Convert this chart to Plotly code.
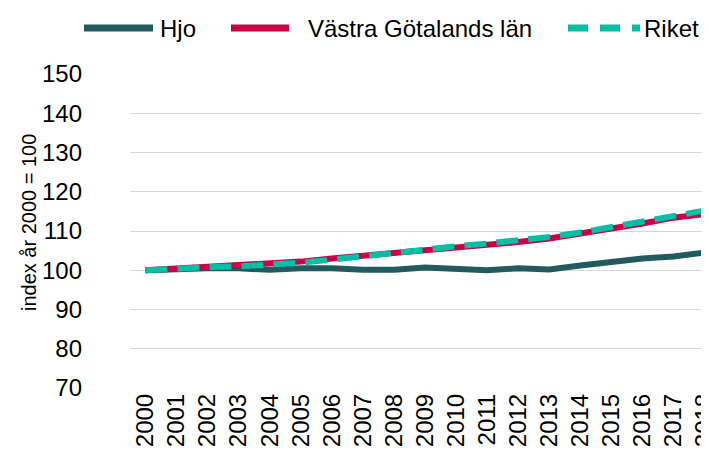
import plotly.graph_objects as go

years = [str(y) for y in range(2000, 2019)]
hjo = [100, 100.3, 100.5, 100.5, 100.1, 100.5, 100.5, 100.1, 100.1, 100.7, 100.5, 100.0, 100.5, 100.2, 101.2, 102.2, 103.0, 103.5, 104.5]
vastra = [100, 100.4, 100.8, 101.5, 101.9, 102.2, 103.0, 103.7, 104.2, 105.0, 105.9, 106.5, 107.2, 108.1, 109.3, 110.4, 111.9, 113.4, 114.3]
riket = [100, 100.5, 100.8, 101.0, 101.3, 101.9, 102.7, 103.6, 104.4, 105.3, 106.1, 106.8, 107.6, 108.5, 109.6, 111.0, 112.4, 113.8, 115.2]

y_ticks = [70, 80, 90, 100, 110, 120, 130, 140, 150]
series_names = ["Hjo", "Västra Götalands län", "Riket"]
series_colors = ["#215A5F", "#CC0044", "#00BFA5"]
series_dash = ["solid", "solid", "22px,10px"]

font_family = "Liberation Sans, Arial, sans-serif"

W, H = 709, 450
ML, MR, MT, MB = 122, 0, 66, 70
PW, PH = W - ML - MR, H - MT - MB


def px_x(p):
    return (p - ML) / PW


def px_y(p):
    return (H - MB - p) / PH


fig = go.Figure()
for name, vals, col, dash in zip(series_names, [hjo, vastra, riket], series_colors, series_dash):
    fig.add_trace(go.Scatter(x=years, y=vals, name=name, mode="lines",
                             line=dict(color=col, width=6, dash=dash)))

# custom legend (layout decoration)
legend_items = [
    (76, 145, 150, "Hjo"),
    (223, 281, 298, "Västra Götalands län"),
    (560, 632, 634, "Riket"),
]
legend_dash = ["solid", "solid", "20px,12px"]
ly = px_y(20)
shapes = []
annotations = []
for (x0, x1, tx, label), col, dash in zip(legend_items, series_colors, legend_dash):
    shapes.append(dict(type="line", xref="paper", yref="paper",
                       x0=px_x(x0), x1=px_x(x1), y0=ly, y1=ly,
                       line=dict(color=col, width=7, dash=dash)))
    annotations.append(dict(text=label, xref="paper", yref="paper",
                            x=px_x(tx), y=ly, xanchor="left", yanchor="middle",
                            showarrow=False, font=dict(size=24, color="#000000")))

annotations.append(dict(text="index år 2000 = 100", xref="paper", yref="paper",
                        x=px_x(21), y=px_y(215), xanchor="center", yanchor="middle",
                        textangle=-90, showarrow=False,
                        font=dict(size=20, color="#000000")))

fig.update_layout(
    width=W, height=H,
    margin=dict(l=ML, r=MR, t=MT, b=MB, autoexpand=False),
    paper_bgcolor="white", plot_bgcolor="white",
    font=dict(family=font_family, size=24, color="#000000"),
    showlegend=False,
    shapes=shapes,
    annotations=annotations,
    xaxis=dict(type="category", range=[-0.5, 18.4], tickangle=-90,
               showgrid=False, showline=False, ticks="", zeroline=False,
               automargin=False, tickfont=dict(size=24)),
    yaxis=dict(range=[70, 150], tickvals=y_ticks, showgrid=True,
               gridcolor="#D9D9D9", gridwidth=1, zeroline=False, showline=False,
               ticks="", tickfont=dict(size=24), ticklabelstandoff=47,
               automargin=False),
)

fig.write_html("out.html")
